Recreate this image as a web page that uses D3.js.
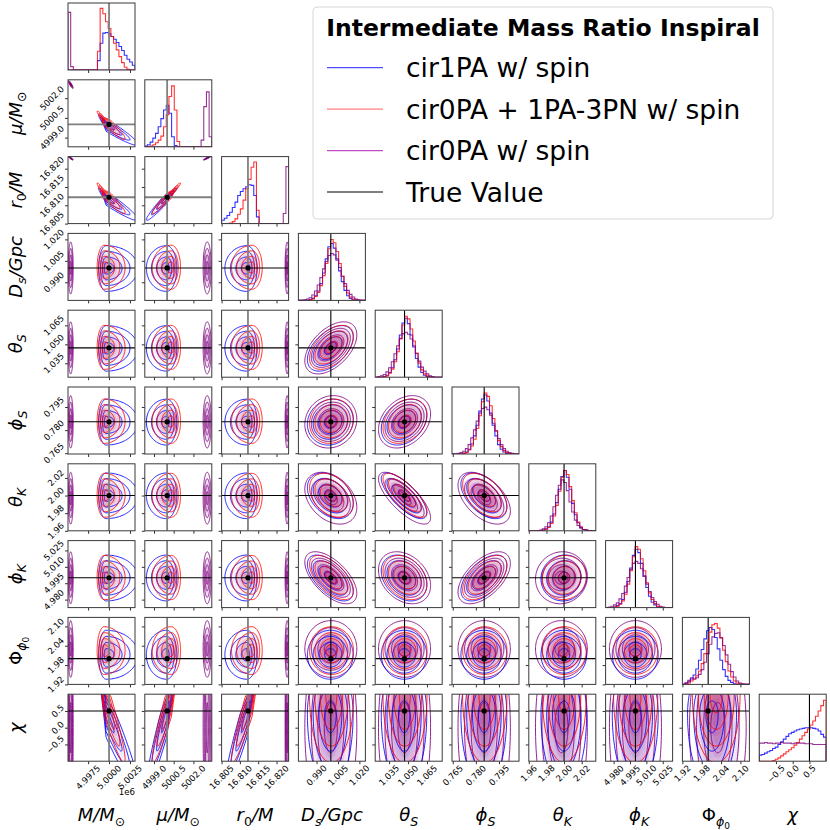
<!DOCTYPE html>
<html>
<head>
<meta charset="utf-8">
<script src="https://cdn.jsdelivr.net/npm/d3@7"></script>
<style>
  body { margin: 0; background: #fff; }
  svg { display: block; }
  text { font-family: "DejaVu Sans", sans-serif; fill: #000; }
</style>
</head>
<body>
<svg id="chart" width="830" height="830"></svg>
<script>
const gridLeft = 68;
const gridTop = 3;
const pitch = 76.8;
const size = 67;

// parameters of the corner plot
const paramKeys = ['M', 'mu', 'r0', 'Ds', 'thS', 'phS', 'thK', 'phK', 'Phi', 'chi'];
const domains = [
  [4995100, 5003100], [4998.3, 5003.4], [16.805, 16.8233], [0.9773, 1.0242],
  [1.024, 1.077], [0.7645, 0.808], [1.96, 2.036], [4.9727, 5.034], [1.92, 2.128], [-1, 1]
];
const tickValues = [
  [4997500, 5000000, 5002500], [4999.0, 5000.5, 5002.0], [16.805, 16.810, 16.815, 16.820],
  [0.990, 1.005, 1.020], [1.035, 1.050, 1.065], [0.765, 0.780, 0.795], [1.96, 1.98, 2.00, 2.02],
  [4.980, 4.995, 5.010, 5.025], [1.92, 1.98, 2.04, 2.10], [-0.5, 0.0, 0.5]
];
const tickLabels = [
  ['4.9975', '5.0000', '5.0025'], ['4999.0', '5000.5', '5002.0'], ['16.805', '16.810', '16.815', '16.820'],
  ['0.990', '1.005', '1.020'], ['1.035', '1.050', '1.065'], ['0.765', '0.780', '0.795'],
  ['1.96', '1.98', '2.00', '2.02'], ['4.980', '4.995', '5.010', '5.025'],
  ['1.92', '1.98', '2.04', '2.10'], ['\u22120.5', '0.0', '0.5']
];
const truths = [5000000, 5000, 16.8122, 1.0, 1.0472, 0.7854, 2.0, 5.0, 2.0, 0.5];

const axisLabels = [
  [['M/M', 0], ['\u2299', 1]],
  [['\u03bc/M', 0], ['\u2299', 1]],
  [['r', 0], ['0', 1], ['/M', 0]],
  [['D', 0], ['s', 1], ['/Gpc', 0]],
  [['\u03b8', 0], ['S', 1]],
  [['\u03d5', 0], ['S', 1]],
  [['\u03b8', 0], ['K', 1]],
  [['\u03d5', 0], ['K', 1]],
  [['\u03a6', 0], ['\u03d5', 1], ['0', 2]],
  [['\u03c7', 0]]
];

// series
const seriesNames = ['cir1PA w/ spin', 'cir0PA + 1PA-3PN w/ spin', 'cir0PA w/ spin'];
const seriesColors = ['#0000ff', '#ff0000', '#800080'];
const legendColors = ['#4d4dff', '#ff8080', '#c04dc0', '#000000'];

// posterior peak and spread (lower / upper side) per parameter
const blueCenter = [4999650, 4999.96, 16.8119, 0.9998, 1.0470, 0.7853, 2.0, 5.0, 2.012, 0.4];
const blueSdLo = [450, 0.77, 0.0030, 0.0081, 0.0091, 0.0075, 0.0131, 0.0106, 0.038, 1.1];
const blueSdHi = [1900, 0.39, 0.0014, 0.0079, 0.0089, 0.0074, 0.0128, 0.0104, 0.038, 0.8];
const redCenter = [4999420, 5000.32, 16.8133, 1.0003, 1.0474, 0.7856, 2.0, 5.0, 2.025, 0.95];
const redSdLo = [420, 0.73, 0.0028, 0.0076, 0.0086, 0.0071, 0.0123, 0.0100, 0.037, 1.0];
const redSdHi = [1250, 0.35, 0.0014, 0.0078, 0.0088, 0.0073, 0.0126, 0.0102, 0.037, 0.3];
const purpleCenter = [4995420, 5003.05, 16.8229, 1.0, 1.0472, 0.7854, 1.997, 5.0, 2.03, 0.0];
const purpleSd = [150, 0.155, 0.00028, 0.0091, 0.0103, 0.0085, 0.0147, 0.0119, 0.044, 1.5];

// correlations between parameter pairs
const corrSky = [
  ['Ds', 'thS', 0.5], ['Ds', 'phS', 0.1], ['thS', 'phS', 0.3],
  ['Ds', 'thK', -0.35], ['thS', 'thK', -0.75], ['phS', 'thK', -0.5],
  ['Ds', 'phK', -0.6], ['thS', 'phK', -0.3], ['phS', 'phK', 0.55], ['thK', 'phK', 0.05]
];
const corrMassRedBlue = [
  ['M', 'mu', -0.95], ['M', 'r0', -0.95], ['mu', 'r0', 0.97],
  ['M', 'chi', -0.95], ['mu', 'chi', 0.95], ['r0', 'chi', 0.95]
];
const corrMassPurple = [['M', 'mu', -0.9], ['M', 'r0', -0.9], ['mu', 'r0', 0.95]];

// 1D histograms, 25 bins over each domain, height as share of panel height
const blueHist = [
  [0, 0, 0, 0, 0, 0, 0, 0, 0, 0, 0, 0.14, 0.4, 0.55, 0.56, 0.54, 0.5, 0.46, 0.41, 0.35, 0.29, 0.22, 0.16, 0.12, 0.07],
  [0.01, 0.03, 0.07, 0.13, 0.2, 0.3, 0.42, 0.55, 0.62, 0.5, 0.15, 0.02, 0, 0, 0, 0, 0, 0, 0, 0, 0, 0, 0, 0, 0],
  [0.05, 0.08, 0.12, 0.17, 0.24, 0.32, 0.42, 0.48, 0.52, 0.55, 0.58, 0.57, 0.42, 0.1, 0, 0, 0, 0, 0, 0, 0, 0, 0, 0, 0],
  [0, 0, 0, 0, 0.01, 0.03, 0.07, 0.14, 0.25, 0.41, 0.62, 0.8, 0.85, 0.78, 0.62, 0.44, 0.28, 0.15, 0.07, 0.03, 0.01, 0, 0, 0, 0],
  [0, 0, 0, 0.01, 0.03, 0.07, 0.14, 0.26, 0.42, 0.63, 0.81, 0.88, 0.8, 0.63, 0.45, 0.28, 0.15, 0.07, 0.03, 0.01, 0, 0, 0, 0, 0],
  [0, 0, 0, 0, 0.01, 0.03, 0.07, 0.15, 0.27, 0.43, 0.64, 0.82, 0.88, 0.79, 0.61, 0.43, 0.27, 0.14, 0.07, 0.03, 0.01, 0, 0, 0, 0],
  [0, 0, 0, 0, 0, 0.01, 0.03, 0.06, 0.13, 0.25, 0.42, 0.62, 0.81, 0.9, 0.8, 0.62, 0.41, 0.24, 0.12, 0.05, 0.02, 0.01, 0, 0, 0],
  [0, 0, 0, 0.01, 0.03, 0.06, 0.12, 0.23, 0.39, 0.59, 0.78, 0.87, 0.82, 0.66, 0.47, 0.3, 0.17, 0.08, 0.04, 0.01, 0, 0, 0, 0, 0],
  [0, 0.02, 0.04, 0.08, 0.14, 0.23, 0.36, 0.52, 0.68, 0.8, 0.85, 0.82, 0.7, 0.53, 0.36, 0.22, 0.12, 0.06, 0.03, 0.01, 0, 0, 0, 0, 0],
  [0.09, 0.1, 0.12, 0.14, 0.16, 0.19, 0.21, 0.25, 0.29, 0.33, 0.37, 0.41, 0.43, 0.45, 0.47, 0.48, 0.49, 0.5, 0.5, 0.5, 0.49, 0.48, 0.45, 0.4, 0.36]
];
const redHist = [
  [0, 0, 0, 0, 0, 0, 0, 0, 0, 0, 0, 0.28, 0.92, 0.84, 0.72, 0.62, 0.5, 0.4, 0.3, 0.2, 0.11, 0.04, 0.01, 0, 0],
  [0, 0, 0.01, 0.03, 0.06, 0.1, 0.16, 0.3, 0.48, 0.75, 0.91, 0.55, 0.08, 0, 0, 0, 0, 0, 0, 0, 0, 0, 0, 0, 0],
  [0, 0, 0, 0.01, 0.03, 0.07, 0.14, 0.22, 0.35, 0.52, 0.66, 0.84, 0.92, 0.2, 0, 0, 0, 0, 0, 0, 0, 0, 0, 0, 0],
  [0, 0, 0, 0, 0.01, 0.02, 0.06, 0.12, 0.22, 0.37, 0.55, 0.77, 0.91, 0.86, 0.73, 0.55, 0.36, 0.21, 0.11, 0.05, 0.02, 0.01, 0, 0, 0],
  [0, 0, 0, 0.01, 0.02, 0.06, 0.12, 0.23, 0.38, 0.57, 0.78, 0.91, 0.87, 0.72, 0.54, 0.36, 0.21, 0.11, 0.05, 0.02, 0.01, 0, 0, 0, 0],
  [0, 0, 0, 0, 0.01, 0.02, 0.06, 0.12, 0.22, 0.38, 0.57, 0.78, 0.91, 0.86, 0.72, 0.53, 0.35, 0.2, 0.11, 0.05, 0.02, 0.01, 0, 0, 0],
  [0, 0, 0, 0, 0, 0.01, 0.02, 0.05, 0.11, 0.22, 0.38, 0.59, 0.8, 0.9, 0.84, 0.66, 0.45, 0.27, 0.13, 0.06, 0.02, 0.01, 0, 0, 0],
  [0, 0, 0, 0.01, 0.02, 0.05, 0.1, 0.2, 0.35, 0.55, 0.76, 0.91, 0.87, 0.73, 0.55, 0.37, 0.22, 0.12, 0.06, 0.02, 0.01, 0, 0, 0, 0],
  [0, 0.01, 0.02, 0.05, 0.08, 0.13, 0.2, 0.31, 0.46, 0.63, 0.78, 0.89, 0.91, 0.84, 0.69, 0.51, 0.34, 0.2, 0.11, 0.05, 0.02, 0.01, 0, 0, 0],
  [0, 0, 0, 0, 0, 0.01, 0.03, 0.05, 0.08, 0.11, 0.14, 0.17, 0.2, 0.24, 0.28, 0.33, 0.38, 0.43, 0.48, 0.54, 0.6, 0.67, 0.75, 0.83, 0.91]
];
const purpleHist = [
  [0.86, 0.05, 0, 0, 0, 0, 0, 0, 0, 0, 0, 0, 0, 0, 0, 0, 0, 0, 0, 0, 0, 0, 0, 0, 0],
  [0, 0, 0, 0, 0, 0, 0, 0, 0, 0, 0, 0, 0, 0, 0, 0, 0, 0, 0, 0, 0, 0.1, 0.6, 0.82, 0.15],
  [0, 0, 0, 0, 0, 0, 0, 0, 0, 0, 0, 0, 0, 0, 0, 0, 0, 0, 0, 0, 0, 0, 0, 0.15, 0.85],
  [0, 0, 0.01, 0.02, 0.04, 0.08, 0.14, 0.23, 0.34, 0.47, 0.58, 0.67, 0.7, 0.68, 0.6, 0.49, 0.36, 0.25, 0.15, 0.09, 0.05, 0.02, 0.01, 0, 0],
  [0, 0.01, 0.02, 0.04, 0.08, 0.14, 0.23, 0.35, 0.47, 0.58, 0.65, 0.67, 0.64, 0.57, 0.47, 0.35, 0.24, 0.15, 0.09, 0.05, 0.02, 0.01, 0, 0, 0],
  [0, 0, 0.01, 0.02, 0.04, 0.08, 0.14, 0.24, 0.36, 0.49, 0.61, 0.68, 0.7, 0.66, 0.58, 0.46, 0.34, 0.23, 0.14, 0.08, 0.04, 0.02, 0.01, 0, 0],
  [0, 0, 0, 0, 0.01, 0.03, 0.06, 0.12, 0.22, 0.36, 0.53, 0.68, 0.76, 0.72, 0.6, 0.43, 0.28, 0.16, 0.08, 0.04, 0.02, 0.01, 0, 0, 0],
  [0, 0.01, 0.02, 0.04, 0.07, 0.13, 0.21, 0.32, 0.45, 0.57, 0.66, 0.69, 0.66, 0.58, 0.47, 0.35, 0.24, 0.15, 0.09, 0.05, 0.02, 0.01, 0, 0, 0],
  [0, 0.02, 0.06, 0.1, 0.08, 0.1, 0.15, 0.22, 0.33, 0.46, 0.6, 0.71, 0.76, 0.77, 0.7, 0.58, 0.44, 0.3, 0.19, 0.11, 0.05, 0.02, 0.01, 0, 0],
  [0.27, 0.27, 0.28, 0.27, 0.27, 0.26, 0.27, 0.27, 0.28, 0.27, 0.27, 0.27, 0.26, 0.27, 0.27, 0.27, 0.27, 0.26, 0.26, 0.26, 0.25, 0.25, 0.25, 0.25, 0.25]
];

const series = [
  { color: seriesColors[0], center: blueCenter, lo: blueSdLo, hi: blueSdHi, corr: corrSky.concat(corrMassRedBlue), hist: blueHist, shade: 0.035 },
  { color: seriesColors[1], center: redCenter, lo: redSdLo, hi: redSdHi, corr: corrSky.concat(corrMassRedBlue), hist: redHist, shade: 0.08 },
  { color: seriesColors[2], center: purpleCenter, lo: purpleSd, hi: purpleSd, corr: corrSky.concat(corrMassPurple), hist: purpleHist, shade: 0.09 }
];

const contourLevels = [0.5, 1, 1.5, 2];
const shadeLevels = [1.6, 1.2, 0.9, 0.6, 0.35];

const svg = d3.select('#chart');
const nParams = paramKeys.length;
const xScales = domains.map(d => d3.scaleLinear().domain(d).range([0, size]));
const yScales = domains.map(d => d3.scaleLinear().domain(d).range([size, 0]));
const histY = d3.scaleLinear().domain([0, 1]).range([size, 0]);

const corrOf = (list, a, b) => {
  const hit = list.find(c => (c[0] === a && c[1] === b) || (c[0] === b && c[1] === a));
  return hit ? hit[2] : 0;
};

const angles = d3.range(0, 2 * Math.PI, Math.PI / 72);
const ellipse = (s, i, j, k) => {
  const rho = corrOf(s.corr, paramKeys[i], paramKeys[j]);
  const q = Math.sqrt(1 - rho * rho);
  return angles.map(t => {
    const u = k * Math.cos(t);
    const v = k * (rho * Math.cos(t) + q * Math.sin(t));
    return [s.center[i] + u * (u < 0 ? s.lo[i] : s.hi[i]),
      s.center[j] + v * (v < 0 ? s.lo[j] : s.hi[j])];
  });
};

const truthStroke = i => (i < 3 ? '#808080' : '#000');
const truthWidth = i => (i < 3 ? 1.8 : 1.1);

const defs = svg.append('defs');
defs.append('clipPath').attr('id', 'panel-clip')
  .append('rect').attr('width', size).attr('height', size);

for (let row = 0; row < nParams; row++) {
  for (let col = 0; col <= row; col++) {
    const g = svg.append('g')
      .attr('transform', `translate(${gridLeft + col * pitch},${gridTop + row * pitch})`);
    const inner = g.append('g').attr('clip-path', 'url(#panel-clip)');
    const xs = xScales[col];

    if (row === col) {
      // diagonal: step histograms
      const edges = d3.range(26).map(b => domains[col][0] + b * (domains[col][1] - domains[col][0]) / 25);
      const step = d3.line().x(p => xs(p[0])).y(p => histY(p[1]));
      series.forEach(s => {
        const h = s.hist[col];
        const pts = [[edges[0], 0]];
        h.forEach((v, b) => { pts.push([edges[b], v], [edges[b + 1], v]); });
        pts.push([edges[25], 0]);
        inner.append('path').attr('d', step(pts))
          .attr('fill', 'none').attr('stroke', s.color)
          .attr('stroke-width', 1.1).attr('stroke-opacity', 0.8);
      });
      inner.append('line')
        .attr('x1', xs(truths[col])).attr('x2', xs(truths[col]))
        .attr('y1', 0).attr('y2', size)
        .attr('stroke', truthStroke(col)).attr('stroke-width', truthWidth(col));
    } else {
      const ys = yScales[row];
      const path = d3.line().x(p => xs(p[0])).y(p => ys(p[1])).curve(d3.curveLinearClosed);
      // density shading
      series.forEach(s => {
        shadeLevels.forEach(k => {
          inner.append('path').attr('d', path(ellipse(s, col, row, k)))
            .attr('fill', s.color).attr('fill-opacity', s.shade).attr('stroke', 'none');
        });
      });
      // contour lines
      [2, 0, 1].forEach(si => {
        const s = series[si];
        contourLevels.forEach(k => {
          inner.append('path').attr('d', path(ellipse(s, col, row, k)))
            .attr('fill', 'none').attr('stroke', s.color)
            .attr('stroke-width', 0.95).attr('stroke-opacity', 0.9);
        });
      });
      // truth lines and point
      inner.append('line')
        .attr('x1', xs(truths[col])).attr('x2', xs(truths[col]))
        .attr('y1', 0).attr('y2', size)
        .attr('stroke', truthStroke(col)).attr('stroke-width', truthWidth(col));
      inner.append('line')
        .attr('x1', 0).attr('x2', size)
        .attr('y1', ys(truths[row])).attr('y2', ys(truths[row]))
        .attr('stroke', truthStroke(row)).attr('stroke-width', truthWidth(row));
      inner.append('circle')
        .attr('cx', xs(truths[col])).attr('cy', ys(truths[row]))
        .attr('r', 2.6).attr('fill', '#000');

      const yAxis = g.append('g')
        .call(d3.axisLeft(ys).tickValues(tickValues[row]).tickSize(3).tickFormat(() => ''));
      yAxis.select('.domain').remove();
      yAxis.selectAll('line').attr('stroke', '#333');
    }

    const xAxis = g.append('g').attr('transform', `translate(0,${size})`)
      .call(d3.axisBottom(xs).tickValues(tickValues[col]).tickSize(3).tickFormat(() => ''));
    xAxis.select('.domain').remove();
    xAxis.selectAll('line').attr('stroke', '#333');

    g.append('rect').attr('width', size).attr('height', size)
      .attr('fill', 'none').attr('stroke', '#3a3a3a').attr('stroke-width', 1);
  }
}

// rotated tick labels
const tickFont = 8.6;
const bottomEdge = gridTop + (nParams - 1) * pitch + size;
for (let col = 0; col < nParams; col++) {
  const x0 = gridLeft + col * pitch;
  tickValues[col].forEach((v, k) => {
    const t = svg.append('text').attr('font-size', tickFont)
      .attr('text-anchor', 'middle').attr('dominant-baseline', 'central')
      .text(tickLabels[col][k]);
    const w = t.node().getComputedTextLength();
    const half = (w + tickFont * 0.8) * Math.SQRT1_2 / 2;
    const cx = x0 + xScales[col](v);
    const cy = bottomEdge + 3 + half;
    t.attr('x', cx).attr('y', cy).attr('transform', `rotate(-45,${cx},${cy})`);
  });
}
for (let row = 1; row < nParams; row++) {
  const y0 = gridTop + row * pitch;
  tickValues[row].forEach((v, k) => {
    const t = svg.append('text').attr('font-size', tickFont)
      .attr('text-anchor', 'middle').attr('dominant-baseline', 'central')
      .text(tickLabels[row][k]);
    const w = t.node().getComputedTextLength();
    const half = (w + tickFont * 0.8) * Math.SQRT1_2 / 2;
    const cx = gridLeft - 3 - half;
    const cy = y0 + yScales[row](v);
    t.attr('x', cx).attr('y', cy).attr('transform', `rotate(-45,${cx},${cy})`);
  });
}
svg.append('text').attr('x', gridLeft + size).attr('y', bottomEdge + 34)
  .attr('text-anchor', 'end').attr('font-size', tickFont).text('1e6');

// axis labels
const writeLabel = (text, parts) => {
  let level = 0;
  const shifts = [0, 4.5, 7.5];
  const sizes = [18, 12.6, 9];
  parts.forEach(([str, lv]) => {
    const upright = str === '\u03a6' || str === '\u2299' || /^\d+$/.test(str);
    text.append('tspan')
      .attr('dy', shifts[lv] - shifts[level])
      .attr('font-size', sizes[lv])
      .attr('font-style', upright ? 'normal' : 'italic')
      .text(str);
    level = lv;
  });
};
for (let col = 0; col < nParams; col++) {
  const t = svg.append('text').attr('text-anchor', 'middle')
    .attr('x', gridLeft + col * pitch + size / 2).attr('y', 821);
  writeLabel(t, axisLabels[col]);
}
for (let row = 1; row < nParams; row++) {
  const cy = gridTop + row * pitch + size / 2;
  const t = svg.append('text').attr('text-anchor', 'middle')
    .attr('x', 22).attr('y', cy).attr('transform', `rotate(-90,22,${cy})`);
  writeLabel(t, axisLabels[row]);
}

// legend
const legend = svg.append('g');
legend.append('rect').attr('x', 313).attr('y', 7).attr('width', 460).attr('height', 212)
  .attr('rx', 4).attr('fill', '#fff').attr('fill-opacity', 0.85)
  .attr('stroke', '#d6d6d6').attr('stroke-width', 1);
legend.append('text').attr('x', 543).attr('y', 36).attr('text-anchor', 'middle')
  .attr('font-size', 23.5).attr('font-weight', 'bold')
  .text('Intermediate Mass Ratio Inspiral');
const legendEntries = seriesNames.concat(['True Value']);
const legendY = d3.scalePoint().domain(d3.range(4)).range([67.7, 192]);
legendEntries.forEach((name, k) => {
  const y = legendY(k);
  legend.append('line').attr('x1', 327).attr('x2', 383).attr('y1', y).attr('y2', y)
    .attr('stroke', legendColors[k]).attr('stroke-width', 1.2);
  legend.append('text').attr('x', 406).attr('y', y + 9.5)
    .attr('font-size', 26.5).text(name);
});
</script>
</body>
</html>
